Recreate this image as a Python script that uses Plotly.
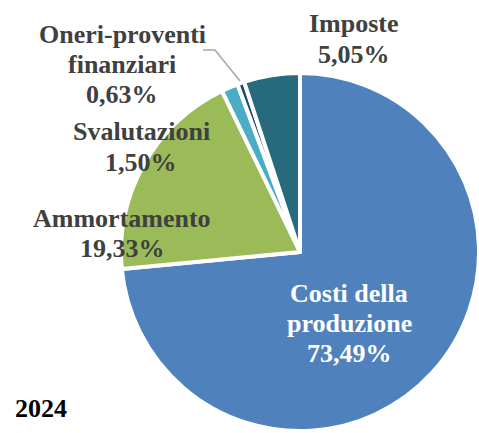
import plotly.graph_objects as go

# ---- data ----
categories = ["Costi della produzione", "Ammortamento", "Svalutazioni",
              "Oneri-proventi finanziari", "Imposte"]
values = [73.49, 19.33, 1.50, 0.63, 5.05]
label_lines = [["Costi della", "produzione"], ["Ammortamento"], ["Svalutazioni"],
               ["Oneri-proventi", "finanziari"], ["Imposte"]]
year_label = "2024"

# ---- style / layout config ----
colors = ["#4F81BD", "#9BBB59", "#4BACC6", "#1F497D", "#266A7C"]
label_colors = ["#FFFFFF", "#404040", "#404040", "#404040", "#404040"]
label_pos = [(349, 302), (122, 227), (141, 141), (122, 43), (354, 33)]  # px: center x, first baseline
W, H = 479, 433
FS = 26
LINE = 30
FONT = "Liberation Serif, Times New Roman, serif"

fig = go.Figure(go.Pie(
    labels=categories,
    values=values,
    sort=False,
    direction="clockwise",
    rotation=0,
    textinfo="none",
    hoverinfo="label+percent",
    marker=dict(colors=colors, line=dict(color="white", width=4)),
    domain=dict(x=[121 / W, 1], y=[1 - 432 / H, 1 - 72 / H]),
    showlegend=False,
))


def px(x):
    return x / W


def py(y):
    return 1 - y / H


annotations = []
for lines, v, (cx, by), col in zip(label_lines, values, label_pos, label_colors):
    pct = f"{v:.2f}%".replace(".", ",")
    for i, t in enumerate(lines + [pct]):
        annotations.append(dict(
            x=px(cx), y=py(by + i * LINE - 9), xref="paper", yref="paper",
            text=f"<b>{t}</b>", showarrow=False, xanchor="center", yanchor="middle",
            font=dict(family=FONT, size=FS, color=col),
        ))

annotations.append(dict(
    x=px(13), y=py(417 - 9), xref="paper", yref="paper",
    text=f"<b>{year_label}</b>", showarrow=False, xanchor="left", yanchor="middle",
    font=dict(family=FONT, size=FS, color="#000000"),
))

leader = f"M {px(203)} {py(50)} L {px(215)} {py(50)} L {px(240)} {py(81)}"

fig.update_layout(
    width=W, height=H,
    margin=dict(l=0, r=0, t=0, b=0),
    paper_bgcolor="white", plot_bgcolor="white",
    annotations=annotations,
    shapes=[dict(type="path", path=leader, xref="paper", yref="paper",
                 line=dict(color="#A6A6A6", width=1.5))],
)

fig.write_html(
    "out.html",
    config={"displayModeBar": False},
    post_script="document.body.style.margin='0';document.body.style.overflow='hidden';",
)
